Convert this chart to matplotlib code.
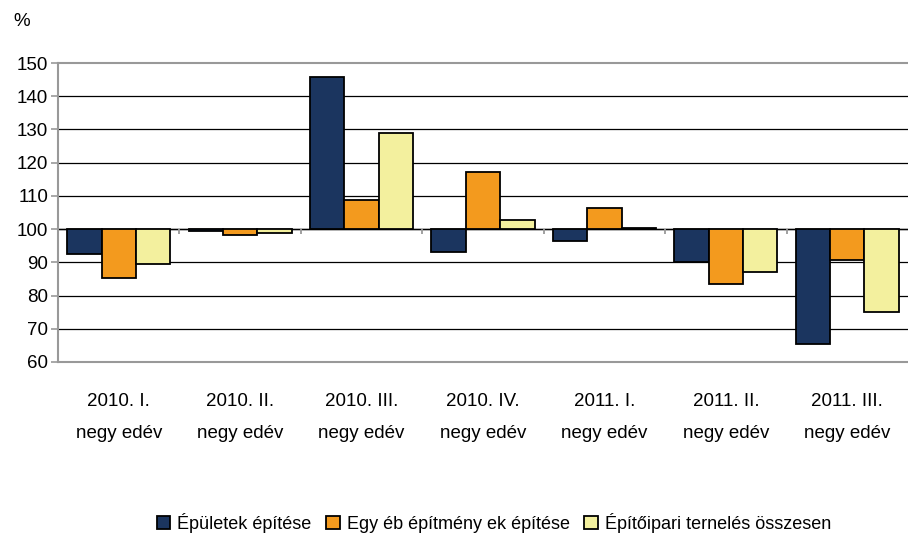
import matplotlib
matplotlib.use("Agg")
import matplotlib.pyplot as plt
import numpy as np

plt.rcParams['font.family'] = ['Liberation Sans', 'DejaVu Sans']

categories = ["2010. I.\nnegy edév", "2010. II.\nnegy edév", "2010. III.\nnegy edév",
              "2010. IV.\nnegy edév", "2011. I.\nnegy edév", "2011. II.\nnegy edév",
              "2011. III.\nnegy edév"]
epuletek = [92.6, 99.3, 145.8, 93.2, 96.3, 90.2, 65.5]
egyeb = [85.4, 98.1, 108.9, 117.3, 106.4, 83.5, 90.6]
osszesen = [89.6, 98.8, 128.8, 102.8, 100.3, 87.1, 75.1]
series_names = ["Épületek építése", "Egy éb építmény ek építése", "Építőipari ternelés összesen"]
colors = ["#1B355F", "#F39A1E", "#F3F09E"]
yticks = [60, 70, 80, 90, 100, 110, 120, 130, 140, 150]
base = 100

fs = 13.5
fig = plt.figure(figsize=(9.08, 5.36), dpi=100)
ax = fig.add_axes([58/908, (536-362)/536, 850/908, (362-63)/536])

x = np.arange(len(categories))
w = 0.283
for i, (vals, c, name) in enumerate(zip([epuletek, egyeb, osszesen], colors, series_names)):
    vals = np.array(vals)
    ax.bar(x + (i - 1) * w, vals - base, bottom=base, width=w, color=c,
           edgecolor="black", linewidth=1.3, label=name, zorder=3)

ax.set_xlim(-0.5, len(categories) - 0.5)
ax.set_ylim(60, 150)
ax.set_yticks(yticks)
ax.tick_params(axis='y', labelsize=fs, length=5, color="#999999", width=1.2, pad=2)
for y in yticks[1:-1]:
    ax.axhline(y, color="black", linewidth=0.9, zorder=1)
ax.axhline(base, color="black", linewidth=1.0, zorder=2)

# small group-separator ticks on the 100 line
ax.vlines(x[:-1] + 0.5, base - 1.6, base, color="#999999", linewidth=1.3, zorder=2)

ax.set_xticks(x)
ax.set_xticklabels(categories, fontsize=fs, linespacing=2.15)
ax.tick_params(axis='x', length=0, pad=22)

for s in ['left', 'top', 'bottom']:
    ax.spines[s].set_color("#999999")
    ax.spines[s].set_linewidth(1.5)
ax.spines['right'].set_visible(False)

fig.text(22/908, 1 - 22/536, "%", fontsize=fs, ha='center', va='center')

leg = fig.legend(loc='center', bbox_to_anchor=(494/908, 1 - 523/536), ncol=3,
                 frameon=False, fontsize=13, handlelength=0.75, handleheight=0.75,
                 handletextpad=0.4, columnspacing=0.8)

fig.savefig("out.png", dpi=100)
